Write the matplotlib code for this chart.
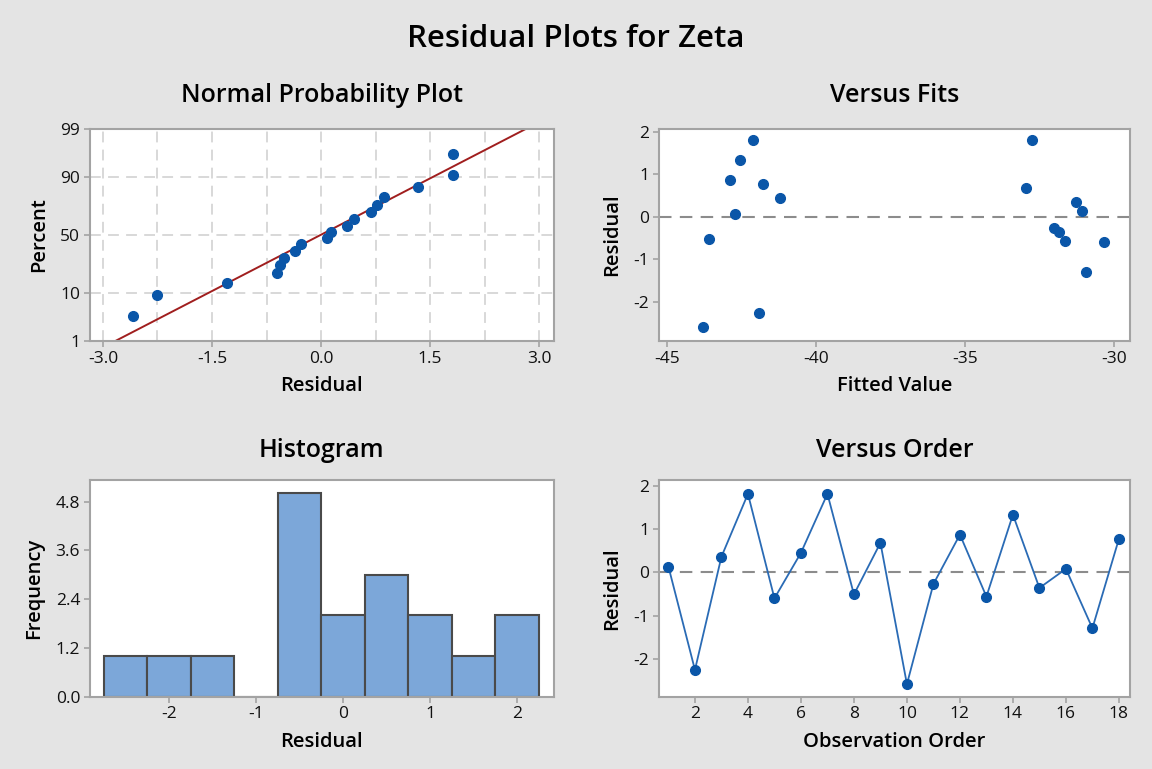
import numpy as np
import matplotlib
matplotlib.use("Agg")
import matplotlib.pyplot as plt
from statistics import NormalDist, mean, stdev

# residuals in observation order
residuals = [0.13, -2.25, 0.36, 1.81, -0.60, 0.45, 1.81, -0.51, 0.68,
             -2.58, -0.27, 0.87, -0.56, 1.33, -0.36, 0.08, -1.29, 0.77]
# fitted values for the same observations (Versus Fits panel)
fitted = [-31.05, -41.91, -31.25, -42.11, -30.33, -41.19, -32.73, -43.59, -32.94,
          -43.79, -32.00, -42.87, -31.65, -42.53, -31.85, -42.71, -30.92, -41.77]
observation = list(range(1, 19))
# plotted percent (median ranks) for the sorted residuals
percent = [3.80, 9.24, 14.67, 20.11, 25.54, 30.98, 36.41, 41.85, 47.28,
           52.72, 58.15, 63.59, 69.02, 74.46, 79.89, 85.33, 90.76, 96.20]
bin_edges = [-2.75, -2.25, -1.75, -1.25, -0.75, -0.25, 0.25, 0.75, 1.25, 1.75, 2.25]

prob_ticks = [1, 10, 50, 90, 99]

BG = "#e4e4e4"
BLUE = "#0a56a8"
LINE_BLUE = "#2a6bb5"
SPINE = "#a3a3a3"
TICK_FS = 12.5
LABEL_FS = 14.5

plt.rcParams['font.family'] = ['Open Sans', 'DejaVu Sans']
plt.rcParams['axes.unicode_minus'] = False

nd = NormalDist()
_inv = np.vectorize(nd.inv_cdf, otypes=[float])
_cdf = np.vectorize(nd.cdf, otypes=[float])


def to_z(p):
    p = np.clip(np.asarray(p, dtype=float) / 100.0, 1e-9, 1 - 1e-9)
    return _inv(p)


def from_z(z):
    return _cdf(np.asarray(z, dtype=float)) * 100.0


def style_axes(ax):
    ax.set_facecolor("white")
    for s in ax.spines.values():
        s.set_color(SPINE)
        s.set_linewidth(1.5)
    ax.tick_params(axis='both', colors=SPINE, labelcolor="#111111",
                   labelsize=TICK_FS, length=4, width=1.2, pad=3)


def labels(ax, xlab, ylab):
    ax.set_xlabel(xlab, fontsize=LABEL_FS, fontweight='semibold', labelpad=7)
    ax.set_ylabel(ylab, fontsize=LABEL_FS, fontweight='semibold', labelpad=8)


def panel_title(ax, text, y):
    pos = ax.get_position()
    fig.text((pos.x0 + pos.x1) / 2, y, text, ha='center', va='baseline',
             fontsize=18, fontweight='semibold')


fig = plt.figure(figsize=(11.52, 7.69), dpi=100, facecolor=BG)
fig.text(0.5, 0.9385, "Residual Plots for Zeta", ha='center', va='baseline',
         fontsize=22.5, fontweight='semibold')

ax1 = fig.add_axes([0.0780, 0.5566, 0.4027, 0.2757])
ax2 = fig.add_axes([0.5722, 0.5566, 0.4085, 0.2757])
ax3 = fig.add_axes([0.0780, 0.0940, 0.4027, 0.2818])
ax4 = fig.add_axes([0.5722, 0.0940, 0.4085, 0.2818])

# Normal probability plot
style_axes(ax1)
ax1.set_yscale('function', functions=(to_z, from_z))
ax1.set_ylim(1, 99)
ax1.set_xlim(-3.18, 3.2)
ax1.set_yticks(prob_ticks)
ax1.set_yticklabels([str(t) for t in prob_ticks])
ax1.yaxis.set_minor_locator(matplotlib.ticker.NullLocator())
ax1.set_xticks([-3.0, -1.5, 0.0, 1.5, 3.0])
ax1.set_xticklabels(["-3.0", "-1.5", "0.0", "1.5", "3.0"])
ax1.set_xticks([-2.25, -0.75, 0.75, 2.25], minor=True)
ax1.tick_params(axis='x', which='minor', length=0)
ax1.grid(True, which='both', axis='x', color="#d6d6d6", linestyle=(0, (6, 4)), linewidth=1.3)
ax1.grid(True, which='major', axis='y', color="#d6d6d6", linestyle=(0, (6, 4)), linewidth=1.3)
ax1.set_axisbelow(True)
mu = mean(residuals)
sd = stdev(residuals)
p_ends = [1, 99]
ax1.plot([mu + sd * nd.inv_cdf(p / 100) for p in p_ends], p_ends,
         color="#a01e1e", linewidth=1.4, zorder=2)
ax1.plot(sorted(residuals), percent, 'o', color=BLUE, markersize=7, zorder=3)
labels(ax1, "Residual", "Percent")
panel_title(ax1, "Normal Probability Plot", 0.8674)

# Versus fits
style_axes(ax2)
ax2.axhline(0, color="#8c8c8c", linestyle=(0, (6, 4)), linewidth=1.5, zorder=1)
ax2.plot(fitted, residuals, 'o', color=BLUE, markersize=7, zorder=3)
ax2.set_xlim(-45.26, -29.46)
ax2.set_ylim(-2.92, 2.07)
ax2.set_xticks([-45, -40, -35, -30])
ax2.set_yticks([-2, -1, 0, 1, 2])
labels(ax2, "Fitted Value", "Residual")
panel_title(ax2, "Versus Fits", 0.8674)

# Histogram
style_axes(ax3)
ax3.hist(residuals, bins=bin_edges, color="#7ca7d9", edgecolor="#4a4a4a", linewidth=1.5)
ax3.set_xlim(-2.91, 2.42)
ax3.set_ylim(0, 5.33)
ax3.set_xticks([-2, -1, 0, 1, 2])
ax3.set_yticks([0.0, 1.2, 2.4, 3.6, 4.8])
ax3.set_yticklabels(["0.0", "1.2", "2.4", "3.6", "4.8"])
labels(ax3, "Residual", "Frequency")
panel_title(ax3, "Histogram", 0.4057)

# Versus order
style_axes(ax4)
ax4.axhline(0, color="#8c8c8c", linestyle=(0, (6, 4)), linewidth=1.5, zorder=1)
ax4.plot(observation, residuals, '-o', color=LINE_BLUE, linewidth=1.3,
         markerfacecolor=BLUE, markeredgecolor=BLUE, markersize=7, zorder=3)
ax4.set_xlim(0.65, 18.41)
ax4.set_ylim(-2.87, 2.13)
ax4.set_xticks(list(range(2, 19, 2)))
ax4.set_yticks([-2, -1, 0, 1, 2])
labels(ax4, "Observation Order", "Residual")
panel_title(ax4, "Versus Order", 0.4057)

fig.savefig("out.png", dpi=100, facecolor=BG)
